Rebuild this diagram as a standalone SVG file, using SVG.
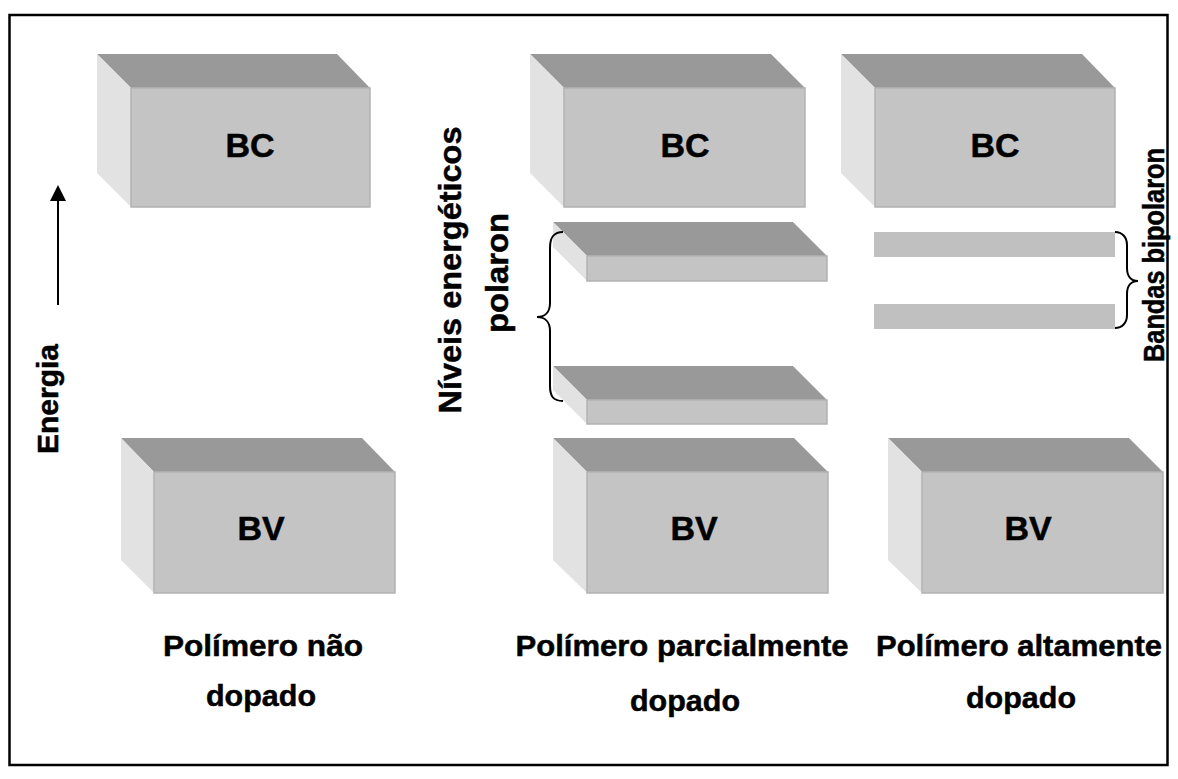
<svg xmlns="http://www.w3.org/2000/svg" width="1178" height="779" viewBox="0 0 1178 779">
<defs>
<style>
.top{fill:#999999;}
.front{fill:#c4c4c4;stroke:#b2b2b2;stroke-width:1.5;}
.side{fill:#e2e2e2;}
.bar{fill:#c0c0c0;}
.lbl{font-family:"Liberation Sans",Arial,sans-serif;font-weight:bold;fill:#000;stroke:#000;stroke-width:0.5;}
.big{font-size:34px;text-anchor:middle;}
.cap{font-size:30px;text-anchor:middle;}
.brace{fill:none;stroke:#000;stroke-width:2;}
</style>
</defs>
<rect x="0" y="0" width="1178" height="779" fill="#ffffff"/>
<rect x="9.5" y="15" width="1158" height="750" fill="none" stroke="#000" stroke-width="2.5"/>

<g id="bc1">
<polygon class="top" points="97,54 337,54 370,88 131,88"/>
<polygon class="side" points="97,54 131,88 131,207 97,173"/>
<rect class="front" x="131" y="88" width="239" height="119"/>
<text class="lbl big" x="250" y="157">BC</text>
</g>
<g id="bv1">
<polygon class="top" points="121,438 362,438 395,472 154,472"/>
<polygon class="side" points="121,438 154,472 154,593 121,560"/>
<rect class="front" x="154" y="472" width="241" height="121"/>
<text class="lbl big" x="261" y="540">BV</text>
</g>

<g id="bc2">
<polygon class="top" points="530,54 771,54 805,88 564,88"/>
<polygon class="side" points="530,54 564,88 564,207 530,173"/>
<rect class="front" x="564" y="88" width="241" height="119"/>
<text class="lbl big" x="685" y="157">BC</text>
</g>
<g id="polaron1">
<polygon class="top" points="553,222 793,222 827,256 587,256"/>
<polygon class="side" points="553,222 587,256 587,281 553,247"/>
<rect class="front" x="587" y="256" width="240" height="25"/>
</g>
<g id="polaron2">
<polygon class="top" points="553,366 793,366 827,400 587,400"/>
<polygon class="side" points="553,366 587,400 587,424 553,390"/>
<rect class="front" x="587" y="400" width="240" height="24"/>
</g>
<g id="bv2">
<polygon class="top" points="553,438 794,438 828,472 587,472"/>
<polygon class="side" points="553,438 587,472 587,593 553,560"/>
<rect class="front" x="587" y="472" width="241" height="121"/>
<text class="lbl big" x="694" y="540">BV</text>
</g>

<g id="bc3">
<polygon class="top" points="841,54 1082,54 1115,88 875,88"/>
<polygon class="side" points="841,54 875,88 875,207 841,173"/>
<rect class="front" x="875" y="88" width="240" height="119"/>
<text class="lbl big" x="995" y="157">BC</text>
</g>
<g id="bipolaron1">
<rect class="bar" x="874" y="232" width="241" height="25"/>
</g>
<g id="bipolaron2">
<rect class="bar" x="874" y="304" width="241" height="25"/>
</g>
<g id="bv3">
<polygon class="top" points="888,438 1129,438 1163,472 922,472"/>
<polygon class="side" points="888,438 922,472 922,593 888,560"/>
<rect class="front" x="922" y="472" width="241" height="121"/>
<text class="lbl big" x="1028" y="540">BV</text>
</g>

<g id="connectors">
<line x1="58" y1="305" x2="58" y2="198" stroke="#000" stroke-width="2"/>
<polygon points="58,185 50,201 66,201" fill="#000"/>
<path class="brace" d="M563,232 C553,232 550,238 550,248 L550,303 C550,312 545,317 537,317 C545,317 550,322 550,331 L550,386 C550,396 553,401 563,401"/>
<path class="brace" d="M1115,232 C1122,232 1127,237 1127,245 L1127,268 C1127,276 1131,281 1138,281 C1131,281 1127,286 1127,294 L1127,315 C1127,323 1122,328 1115,328"/>
</g>

<g id="energia">
<text class="lbl" font-size="30" text-anchor="middle" textLength="110" lengthAdjust="spacingAndGlyphs" transform="translate(58,399) rotate(-90)">Energia</text>
</g>
<g id="niveis">
<text class="lbl" font-size="32" text-anchor="middle" textLength="287" lengthAdjust="spacingAndGlyphs" transform="translate(461,270) rotate(-90)">Níveis energéticos</text>
<text class="lbl" font-size="32" text-anchor="middle" textLength="120" lengthAdjust="spacingAndGlyphs" transform="translate(508,273) rotate(-90)">polaron</text>
</g>
<g id="bandas">
<text class="lbl" font-size="29" text-anchor="middle" textLength="214" lengthAdjust="spacingAndGlyphs" transform="translate(1164,255) rotate(-90)">Bandas bipolaron</text>
</g>

<g id="captions">
<text class="lbl cap" x="263" y="656" textLength="200" lengthAdjust="spacingAndGlyphs">Polímero não</text>
<text class="lbl cap" x="261" y="706" textLength="110" lengthAdjust="spacingAndGlyphs">dopado</text>
<text class="lbl cap" x="682" y="656" textLength="333" lengthAdjust="spacingAndGlyphs">Polímero parcialmente</text>
<text class="lbl cap" x="685" y="711" textLength="110" lengthAdjust="spacingAndGlyphs">dopado</text>
<text class="lbl cap" x="1019" y="656" textLength="286" lengthAdjust="spacingAndGlyphs">Polímero altamente</text>
<text class="lbl cap" x="1021" y="708" textLength="110" lengthAdjust="spacingAndGlyphs">dopado</text>
</g>
</svg>
